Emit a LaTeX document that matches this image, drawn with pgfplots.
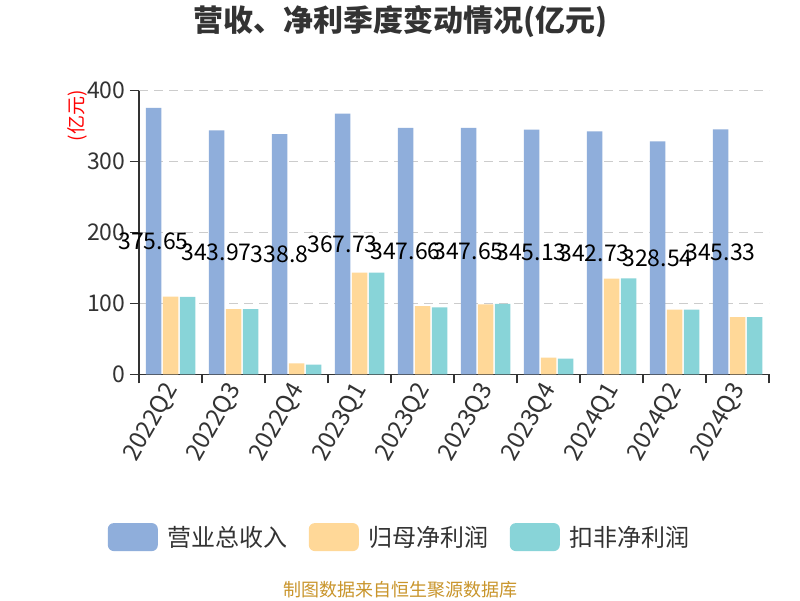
\documentclass[border=0pt]{standalone}
\usepackage{pgfplots}
\pgfplotsset{compat=1.18}
\usepackage{fontspec}
\setmainfont{Noto Sans CJK SC}

\definecolor{revblue}{HTML}{8FAEDB}
\definecolor{npyellow}{HTML}{FFD898}
\definecolor{dnpteal}{HTML}{88D4D8}
\definecolor{txtgray}{HTML}{333333}
\definecolor{gridgray}{HTML}{CCCCCC}
\definecolor{srcgold}{HTML}{C9952B}

\newcommand{\fs}[1]{\fontsize{#1}{#1}\selectfont}

\begin{document}
\begin{tikzpicture}
  \useasboundingbox (0,0) rectangle (800pt,600pt);
  \fill[white] (0,0) rectangle (800pt,600pt);

  \begin{axis}[
    at={(139pt,225.7pt)}, anchor=south west,
    scale only axis, width=630pt, height=283.6pt,
    clip=false,
    xmin=-0.5, xmax=9.5, ymin=0, ymax=400,
    enlargelimits=false,
    /pgf/number format/assume math mode=true,
    ybar=1.5pt, bar width=15.5pt,
    axis x line=bottom, axis y line=left,
    axis line style={-, line width=1.6pt, draw=txtgray},
    xtick={0,...,9},
    xticklabels={2022Q2,2022Q3,2022Q4,2023Q1,2023Q2,2023Q3,2023Q4,2024Q1,2024Q2,2024Q3},
    minor xtick={-0.5,0.5,...,9.5},
    major x tick style={draw=none},
    minor x tick style={line width=1.6pt, draw=txtgray},
    ytick={0,100,...,400},
    y tick style={line width=1.6pt, draw=txtgray},
    major tick length=9pt, minor tick length=9pt,
    tick align=outside,
    ymajorgrids,
    major grid style={gridgray, line width=1.4pt, dash pattern=on 9pt off 6pt},
    yticklabel style={font=\fs{23}, text=txtgray, xshift=-1pt},
    xticklabel style={font=\fs{24}, text=txtgray, rotate=60, anchor=east, inner sep=2pt,
      yshift=-3pt, xshift=1pt},
    ylabel={(亿元)},
    ylabel style={font=\fs{19}, text=red, at={(axis description cs:-0.098,0.911)}, anchor=center, rotate=0},
    legend columns=3,
    legend style={at={(axis description cs:0.414,-0.574)}, anchor=center, draw=none,
      font=\fs{24}, text=txtgray, fill=none,
      /tikz/every odd column/.append style={column sep=8pt},
      /tikz/every even column/.append style={column sep=19pt}},
    legend image code/.code={\fill[#1, rounded corners=6pt] (0pt,-14pt) rectangle (50pt,14pt);},
  ]
    \addplot[fill=revblue, draw=none,
      visualization depends on={y \as \rawy},
      nodes near coords,
      every node near coord/.append style={font=\fs{23}, text=black, anchor=center,
        shift={(axis direction cs:0,-\rawy/2)}}]
      coordinates {(0,375.65) (1,343.97) (2,338.8) (3,367.73) (4,347.66)
                   (5,347.65) (6,345.13) (7,342.73) (8,328.54) (9,345.33)};
    \addlegendentry{营业总收入}
    \addplot[fill=npyellow, draw=none]
      coordinates {(0,109.4) (1,92.1) (2,15.5) (3,143.3) (4,96.3)
                   (5,98.7) (6,23.5) (7,134.9) (8,91.2) (9,80.8)};
    \addlegendentry{归母净利润}
    \addplot[fill=dnpteal, draw=none]
      coordinates {(0,109.2) (1,92.0) (2,13.6) (3,143.5) (4,94.5)
                   (5,99.4) (6,22.2) (7,135.2) (8,91.2) (9,80.5)};
    \addlegendentry{扣非净利润}
  \end{axis}

  \node[font=\fs{30}\bfseries, text=txtgray] at (400pt,578pt) {营收、净利季度变动情况(亿元)};
  \node[font=\fs{18}, text=srcgold] at (400pt,10pt) {制图数据来自恒生聚源数据库};
\end{tikzpicture}
\end{document}
